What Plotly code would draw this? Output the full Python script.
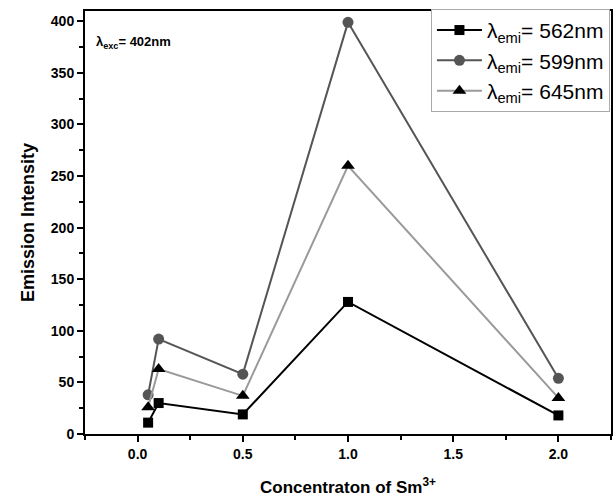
import plotly.graph_objects as go

# Sm3+ concentration and emission intensity at three emission wavelengths
concentration = [0.05, 0.1, 0.5, 1.0, 2.0]
intensity_562 = [11, 30, 19, 128, 18]
intensity_599 = [38, 92, 58, 399, 54]
intensity_645 = [26, 63, 37, 260, 35]

series = [
    ("λ<sub>emi</sub>= 562nm", intensity_562, "#000000", "#000000", "square", 10),
    ("λ<sub>emi</sub>= 599nm", intensity_599, "#555555", "#555555", "circle", 11),
    ("λ<sub>emi</sub>= 645nm", intensity_645, "#9a9a9a", "#000000", "triangle-up", 12),
]

FONT = "Liberation Sans, Arial, sans-serif"

fig = go.Figure()
for name, vals, line_color, marker_color, symbol, size in series:
    fig.add_trace(go.Scatter(
        x=concentration, y=vals, name=name, mode="lines+markers",
        line=dict(color=line_color, width=2),
        marker=dict(symbol=symbol, size=size, color=marker_color),
    ))

axis_common = dict(
    showline=True, linecolor="black", linewidth=2, mirror=True,
    ticks="outside", ticklen=6, tickwidth=2, tickcolor="black",
    showgrid=False, zeroline=False,
    tickfont=dict(family=FONT, size=14, color="black", weight="bold"),
)

fig.update_xaxes(
    range=[-0.25, 2.25], tickvals=[0, 0.5, 1.0, 1.5, 2.0],
    ticktext=["0.0", "0.5", "1.0", "1.5", "2.0"],
    minor=dict(ticks="outside", ticklen=4, tickwidth=2, tickcolor="black", dtick=0.25, showgrid=False),
    title=dict(text="Concentraton of Sm<sup>3+</sup>", standoff=20,
               font=dict(family=FONT, size=17, color="black", weight="bold")),
    **axis_common,
)
fig.update_yaxes(
    range=[0, 410], tickvals=[0, 50, 100, 150, 200, 250, 300, 350, 400],
    minor=dict(ticks="outside", ticklen=4, tickwidth=2, tickcolor="black", dtick=25, showgrid=False),
    title=dict(text="Emission Intensity", standoff=12,
               font=dict(family=FONT, size=18, color="black", weight="bold")),
    **axis_common,
)

fig.add_annotation(
    x=0.018, y=0.925, xref="paper", yref="paper", xanchor="left", yanchor="middle",
    text="λ<sub>exc</sub>= 402nm", showarrow=False,
    font=dict(family=FONT, size=13, color="black", weight="bold"),
)

fig.update_layout(
    width=616, height=502,
    margin=dict(l=85, r=3, t=11, b=68),
    paper_bgcolor="white", plot_bgcolor="white",
    showlegend=True,
    legend=dict(
        x=0.998, y=1.005, xanchor="right", yanchor="top",
        bgcolor="white", bordercolor="#aaaaaa", borderwidth=1,
        font=dict(family=FONT, size=21, color="black"),
        itemwidth=45, tracegroupgap=0,
    ),
)

fig.write_html("out.html")
